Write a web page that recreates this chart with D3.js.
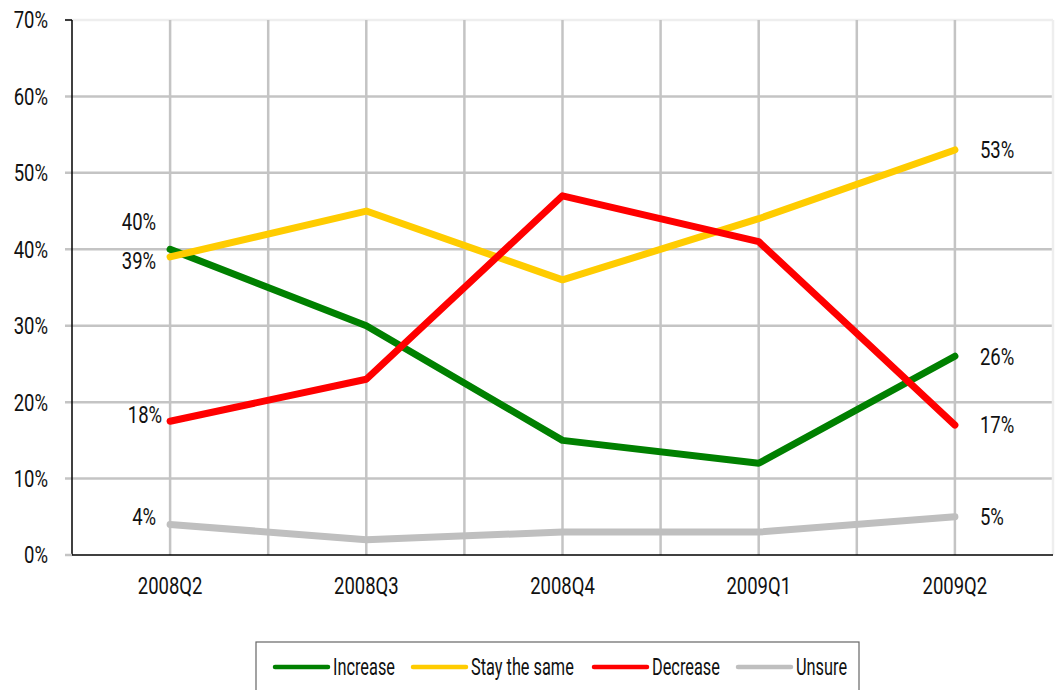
<!DOCTYPE html>
<html>
<head>
<meta charset="utf-8">
<script src="https://cdn.jsdelivr.net/npm/d3@7"></script>
<style>
  body { margin: 0; background: #fff; }
  svg text { font-family: "Roboto", "Liberation Sans", sans-serif; fill: #111; font-size: 24px; }
</style>
</head>
<body>
<div id="chart"></div>
<script>
const quarters = ['2008Q2', '2008Q3', '2008Q4', '2009Q1', '2009Q2'];
const increase = [40, 30, 15, 12, 26];
const staySame = [39, 45, 36, 44, 53];
const decrease = [17.5, 23, 47, 41, 17];
const unsure = [4, 2, 3, 3, 5];
const yTicks = [0, 10, 20, 30, 40, 50, 60, 70];

const series = [
  { name: 'Increase', values: increase, color: '#008000' },
  { name: 'Stay the same', values: staySame, color: '#FFCC00' },
  { name: 'Decrease', values: decrease, color: '#FF0000' },
  { name: 'Unsure', values: unsure, color: '#BFBFBF' }
];

// labels: [series index, point index, text]
const pointLabels = [
  [0, 0, '40%'], [1, 0, '39%'], [2, 0, '18%'], [3, 0, '4%'],
  [1, 4, '53%'], [0, 4, '26%'], [2, 4, '17%'], [3, 4, '5%']
];
// label nudges in px for the first-column labels
const labelNudge = { '40%': [-14, -28], '39%': [-14, 4], '18%': [-8, -7], '4%': [-14, -8] };

const width = 1056, height = 690;
const margin = { top: 20, right: 3, bottom: 135, left: 72 };
const numScale = 0.77, wordScale = 0.68;

const svg = d3.select('#chart').append('svg')
  .attr('width', width)
  .attr('height', height);

const x = d3.scaleBand().domain(quarters)
  .range([margin.left, width - margin.right]);
const y = d3.scaleLinear().domain([0, 70])
  .range([height - margin.bottom, margin.top]);

const cx = d => x(d) + x.bandwidth() / 2;

// condensed look: squeeze text horizontally around its anchor
function squeezed(sel, px, py, s) {
  return sel.attr('transform', (d, i) => `translate(${px(d, i)},${py(d, i)}) scale(${s},1)`);
}

// horizontal grid
svg.append('g').selectAll('line')
  .data(yTicks.filter(t => t > 0))
  .join('line')
  .attr('x1', margin.left - 7).attr('x2', width - margin.right)
  .attr('y1', d => y(d)).attr('y2', d => y(d))
  .attr('stroke', d => d === 70 ? '#eeeeee' : '#c4c4c4')
  .attr('stroke-width', 2.5);

// vertical grid: category centres and band edges
const vLines = [];
quarters.forEach(q => { vLines.push(x(q) + x.bandwidth() / 2); vLines.push(x(q) + x.bandwidth()); });
svg.append('g').selectAll('line')
  .data(vLines)
  .join('line')
  .attr('x1', d => d).attr('x2', d => d)
  .attr('y1', y(70)).attr('y2', y(0))
  .attr('stroke', (d, i) => i === vLines.length - 1 ? '#eeeeee' : '#c4c4c4')
  .attr('stroke-width', 2.5);

// axes
svg.append('line')
  .attr('x1', margin.left).attr('x2', margin.left)
  .attr('y1', y(70)).attr('y2', y(0))
  .attr('stroke', '#000').attr('stroke-width', 1.5);
svg.append('line')
  .attr('x1', margin.left - 7).attr('x2', margin.left)
  .attr('y1', y(70)).attr('y2', y(70))
  .attr('stroke', '#000').attr('stroke-width', 1.5);
svg.append('line')
  .attr('x1', margin.left - 7).attr('x2', margin.left)
  .attr('y1', y(0)).attr('y2', y(0))
  .attr('stroke', '#c4c4c4').attr('stroke-width', 2.5);
svg.append('line')
  .attr('x1', margin.left).attr('x2', width - margin.right)
  .attr('y1', y(0)).attr('y2', y(0))
  .attr('stroke', '#000').attr('stroke-width', 1.5);

squeezed(svg.append('g').selectAll('text')
  .data(yTicks)
  .join('text')
  .attr('dy', '0.35em')
  .attr('text-anchor', 'end')
  .text(d => d + '%'), () => 48, d => y(d), numScale);

squeezed(svg.append('g').selectAll('text')
  .data(quarters)
  .join('text')
  .attr('text-anchor', 'middle')
  .text(d => d), d => cx(d), () => 594, numScale);

// lines
const line = d3.line()
  .x((d, i) => cx(quarters[i]))
  .y(d => y(d));

svg.append('g').selectAll('path')
  .data(series)
  .join('path')
  .attr('d', d => line(d.values))
  .attr('fill', 'none')
  .attr('stroke', d => d.color)
  .attr('stroke-width', 7)
  .attr('stroke-linecap', 'round')
  .attr('stroke-linejoin', 'round');

// point labels
squeezed(svg.append('g').selectAll('text')
  .data(pointLabels)
  .join('text')
  .attr('dy', '0.35em')
  .attr('text-anchor', d => d[1] === 0 ? 'end' : 'start')
  .text(d => d[2]),
  d => cx(quarters[d[1]]) + (d[1] === 0 ? labelNudge[d[2]][0] : 25),
  d => y(series[d[0]].values[d[1]]) + (d[1] === 0 ? labelNudge[d[2]][1] : 0),
  numScale);

// legend
const legend = svg.append('g');
legend.append('rect')
  .attr('x', 256).attr('y', 642)
  .attr('width', 603).attr('height', 60)
  .attr('fill', '#fff')
  .attr('stroke', '#666').attr('stroke-width', 1.2);

const legendX = [274, 412, 593, 737];
const items = legend.selectAll('g.item')
  .data(series)
  .join('g')
  .attr('class', 'item')
  .attr('transform', (d, i) => `translate(${legendX[i]},667)`);
items.append('line')
  .attr('x1', 1).attr('x2', 54)
  .attr('stroke', d => d.color)
  .attr('stroke-width', 4.5)
  .attr('stroke-linecap', 'round');
items.append('text')
  .attr('dy', '0.35em')
  .attr('transform', `translate(59,0) scale(${wordScale},1)`)
  .text(d => d.name);
</script>
</body>
</html>
